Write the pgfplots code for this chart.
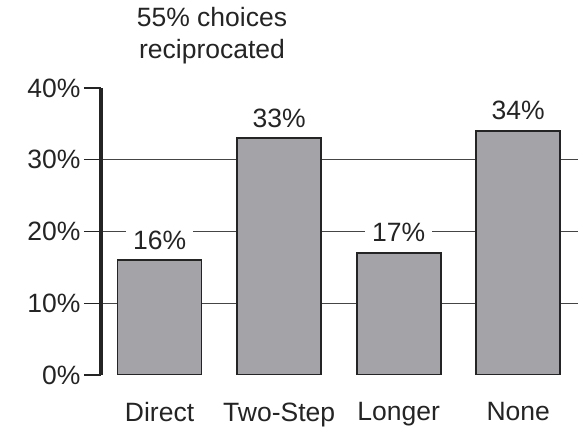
\documentclass[border=0pt]{standalone}
\usepackage{pgfplots}
\pgfplotsset{compat=1.18}
\usepackage{fontspec}
\setmainfont{Liberation Sans}
\definecolor{barfill}{HTML}{A4A4A8}
\definecolor{ink}{HTML}{242424}
\begin{document}
\begin{tikzpicture}[x=1pt,y=1pt]
\useasboundingbox (0,0) rectangle (585,427);
\node[align=center, text=ink, font=\fontsize{26.5}{32}\selectfont] at (212,391) {55\% choices\\reciprocated};
\begin{axis}[
  at={(101pt,52pt)}, anchor=south west,
  scale only axis, width=477pt, height=287pt,
  xmin=-0.49, xmax=3.5, ymin=0, ymax=40,
  separate axis lines,
  axis x line*=bottom, axis y line*=left,
  x axis line style={draw=none},
  y axis line style={line width=4pt, ink},
  xtick=data, xticklabels={Direct, Two-Step, Longer, None},
  major x tick style={draw=none},
  xticklabel style={yshift=-7pt},
  ytick={10,20,30}, extra y ticks={0,40},
  extra y tick style={grid=none},
  yticklabel={\pgfmathprintnumber{\tick}\%},
  ymajorgrids, grid style={line width=1.2pt, ink!85},
  tick align=outside, major tick length=17pt,
  major y tick style={line width=1.2pt, ink},
  ticklabel style={font=\fontsize{26.5}{30}\selectfont, text=ink},
  /pgf/number format/assume math mode=true,
  ybar, bar width=84pt,
  nodes near coords={\pgfmathprintnumber{\pgfplotspointmeta}\%},
  nodes near coords style={font=\fontsize{26.5}{30}\selectfont, text=ink, fill=white, anchor=south, inner xsep=7pt, inner ysep=0pt, yshift=10pt},
]
\addplot[fill=barfill, draw=ink, line width=1.8pt] coordinates {(0,16) (1,33) (2,17) (3,34)};
\end{axis}
\end{tikzpicture}
\end{document}
